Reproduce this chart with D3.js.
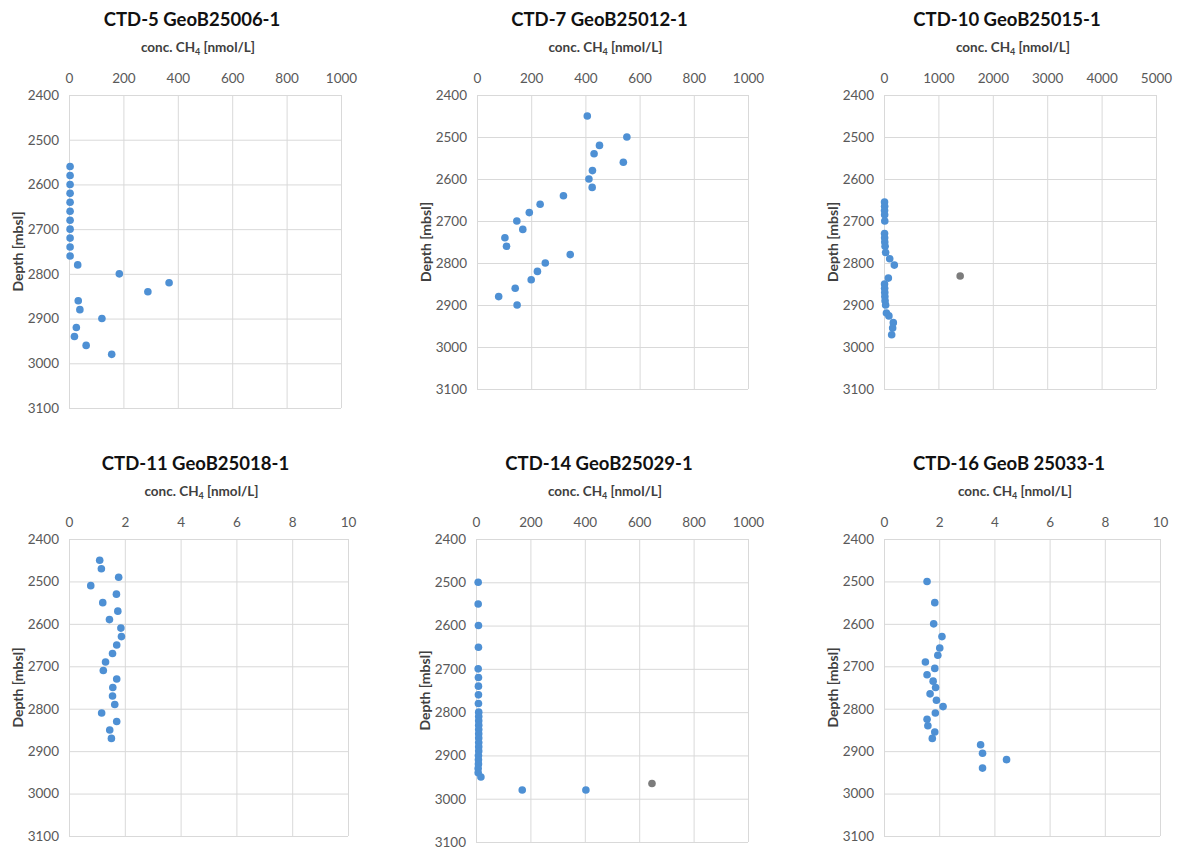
<!DOCTYPE html>
<html>
<head>
<meta charset="utf-8">
<script src="https://cdn.jsdelivr.net/npm/d3@7"></script>
<style>
  html, body { margin: 0; padding: 0; background: #fff; }
  svg { display: block; }
  text { font-family: Lato, "Open Sans", sans-serif; }
</style>
</head>
<body>
<svg id="chart" width="1177" height="849"></svg>
<script>
// Methane concentration profiles, CTD casts (depth in m below sea level, CH4 in nmol/L)

const titles = ["CTD-5 GeoB25006-1", "CTD-7 GeoB25012-1", "CTD-10 GeoB25015-1",
                "CTD-11 GeoB25018-1", "CTD-14 GeoB25029-1", "CTD-16 GeoB 25033-1"];

const xTicksSmall = [0, 2, 4, 6, 8, 10];
const xTicks1000 = [0, 200, 400, 600, 800, 1000];
const xTicks5000 = [0, 1000, 2000, 3000, 4000, 5000];
const depthTicks = [2400, 2500, 2600, 2700, 2800, 2900, 3000, 3100];

// CTD-5
const ctd5Depth = [2560, 2580, 2600, 2620, 2640, 2660, 2680, 2700, 2720, 2740, 2760,
                   2780, 2800, 2820, 2840, 2860, 2880, 2900, 2920, 2940, 2960, 2980];
const ctd5Conc  = [4, 4, 4, 4, 4, 4, 4, 4, 4, 4, 4,
                   32, 185, 368, 290, 34, 40, 121, 27, 20, 63, 157];

// CTD-7
const ctd7Depth = [2450, 2500, 2520, 2540, 2560, 2580, 2600, 2620, 2640, 2660, 2680,
                   2700, 2720, 2740, 2760, 2780, 2800, 2820, 2840, 2860, 2880, 2900];
const ctd7Conc  = [407, 553, 452, 432, 540, 426, 413, 425, 319, 233, 193,
                   147, 169, 103, 109, 344, 252, 223, 200, 141, 80, 148];

// CTD-10
const ctd10Depth = [2655, 2665, 2675, 2685, 2700, 2730, 2740, 2750, 2760, 2775,
                    2790, 2805, 2836, 2850, 2860, 2870, 2880, 2890, 2900,
                    2919, 2926, 2942, 2955, 2971];
const ctd10Conc  = [10, 12, 10, 12, 14, 10, 12, 14, 20, 30,
                    105, 190, 80, 10, 12, 14, 16, 20, 30,
                    45, 90, 171, 159, 141];
const ctd10GrayDepth = [2831];
const ctd10GrayConc  = [1400];

// CTD-11
const ctd11Depth = [2450, 2470, 2490, 2510, 2530, 2550, 2570, 2590, 2610, 2630, 2650,
                    2670, 2690, 2710, 2730, 2750, 2770, 2790, 2810, 2830, 2850, 2870];
const ctd11Conc  = [1.10, 1.16, 1.78, 0.78, 1.70, 1.21, 1.75, 1.45, 1.86, 1.88, 1.71,
                    1.56, 1.31, 1.23, 1.71, 1.57, 1.56, 1.64, 1.17, 1.71, 1.46, 1.52];

// CTD-14
const ctd14Depth = [2500, 2550, 2600, 2650, 2700, 2720, 2740, 2760, 2780, 2800,
                    2810, 2820, 2830, 2840, 2850, 2860, 2870, 2880, 2890, 2900,
                    2910, 2920, 2930, 2940, 2950, 2980, 2980];
const ctd14Conc  = [8, 8, 9, 9, 8, 9, 9, 9, 9, 10,
                    10, 10, 10, 10, 10, 10, 10, 10, 10, 9,
                    9, 9, 8, 8, 18, 170, 404];
const ctd14GrayDepth = [2965];
const ctd14GrayConc  = [647];

// CTD-16
const ctd16Depth = [2500, 2550, 2600, 2630, 2657, 2674, 2690, 2705, 2720, 2735, 2750,
                    2765, 2780, 2795, 2810, 2825, 2840, 2855, 2870, 2885, 2905, 2920, 2940];
const ctd16Conc  = [1.56, 1.84, 1.80, 2.10, 2.02, 1.95, 1.50, 1.84, 1.56, 1.78, 1.87,
                    1.67, 1.90, 2.14, 1.86, 1.56, 1.59, 1.84, 1.75, 3.50, 3.57, 4.44, 3.57];

const panels = [
  { title: titles[0], depth: ctd5Depth,  conc: ctd5Conc,  xMax: 1000, ticks: xTicks1000, box: [69, 341, 95, 408] },
  { title: titles[1], depth: ctd7Depth,  conc: ctd7Conc,  xMax: 1000, ticks: xTicks1000, box: [477, 748, 95, 389] },
  { title: titles[2], depth: ctd10Depth, conc: ctd10Conc, xMax: 5000, ticks: xTicks5000, box: [884, 1156, 95, 389],
    grayDepth: ctd10GrayDepth, grayConc: ctd10GrayConc },
  { title: titles[3], depth: ctd11Depth, conc: ctd11Conc, xMax: 10,   ticks: xTicksSmall, box: [69, 348, 539, 836] },
  { title: titles[4], depth: ctd14Depth, conc: ctd14Conc, xMax: 1000, ticks: xTicks1000, box: [476, 748, 539, 842],
    grayDepth: ctd14GrayDepth, grayConc: ctd14GrayConc },
  { title: titles[5], depth: ctd16Depth, conc: ctd16Conc, xMax: 10,   ticks: xTicksSmall, box: [884, 1160, 539, 836] }
];

const svg = d3.select("#chart");
const gridColor = "#d9d9d9";
const tickColor = "#595959";
const blue = "#4e90d4";
const gray = "#7c7c7c";

panels.forEach(p => {
  const [x0, x1, y0, y1] = p.box;
  const x = d3.scaleLinear().domain([0, p.xMax]).range([x0, x1]);
  const y = d3.scaleLinear().domain([2400, 3100]).range([y0, y1]);
  const g = svg.append("g");

  // grid (also forms the plot frame)
  g.append("g").call(d3.axisTop(x).tickValues(p.ticks).tickSize(-(y1 - y0)).tickFormat(""))
    .attr("transform", `translate(0,${y0})`)
    .call(a => a.select(".domain").remove())
    .call(a => a.selectAll("line").attr("stroke", gridColor).attr("stroke-width", 1));
  g.append("g").call(d3.axisLeft(y).tickValues(depthTicks).tickSize(-(x1 - x0)).tickFormat(""))
    .attr("transform", `translate(${x0},0)`)
    .call(a => a.select(".domain").remove())
    .call(a => a.selectAll("line").attr("stroke", gridColor).attr("stroke-width", 1));

  // tick labels
  const xa = g.append("g").attr("transform", `translate(0,${y0 - 12})`)
    .call(d3.axisTop(x).tickValues(p.ticks).tickSize(0).tickPadding(0).tickFormat(d3.format("d")));
  xa.select(".domain").remove();
  xa.selectAll("text").attr("fill", tickColor).style("font-size", "13.5px").style("font-family", "Lato, sans-serif");

  const ya = g.append("g").attr("transform", `translate(${x0 - 10},0)`)
    .call(d3.axisLeft(y).tickValues(depthTicks).tickSize(0).tickPadding(0).tickFormat(d3.format("d")));
  ya.select(".domain").remove();
  ya.selectAll("text").attr("fill", tickColor).style("font-size", "13.5px").style("font-family", "Lato, sans-serif");

  const cx = (x0 + x1) / 2 - 13;

  // panel title
  g.append("text").attr("x", cx).attr("y", y0 - 76).attr("text-anchor", "middle")
    .attr("dominant-baseline", "central")
    .style("font-size", "18.5px").style("font-weight", "bold").attr("fill", "#111")
    .text(p.title);

  // x axis title with subscript
  const xt = g.append("text").attr("x", cx + 6).attr("y", y0 - 43).attr("text-anchor", "middle")
    .style("font-size", "13.5px").style("font-weight", "bold").attr("fill", "#404040");
  xt.append("tspan").text("conc. CH");
  xt.append("tspan").attr("dy", 3).style("font-size", "9px").text("4");
  xt.append("tspan").attr("dy", -3).text(" [nmol/L]");

  // y axis title
  g.append("text")
    .attr("transform", `translate(${x0 - 52},${(y0 + y1) / 2}) rotate(-90)`)
    .attr("text-anchor", "middle").attr("dominant-baseline", "central")
    .style("font-size", "14px").style("font-weight", "bold").attr("fill", "#404040")
    .text("Depth [mbsl]");

  // data points
  g.append("g").selectAll("circle").data(p.depth.map((d, i) => [p.conc[i], d]))
    .join("circle")
    .attr("cx", d => x(d[0])).attr("cy", d => y(d[1])).attr("r", 3.8)
    .attr("fill", blue);

  if (p.grayDepth) {
    g.append("g").selectAll("circle").data(p.grayDepth.map((d, i) => [p.grayConc[i], d]))
      .join("circle")
      .attr("cx", d => x(d[0])).attr("cy", d => y(d[1])).attr("r", 3.8)
      .attr("fill", gray);
  }
});
</script>
</body>
</html>
